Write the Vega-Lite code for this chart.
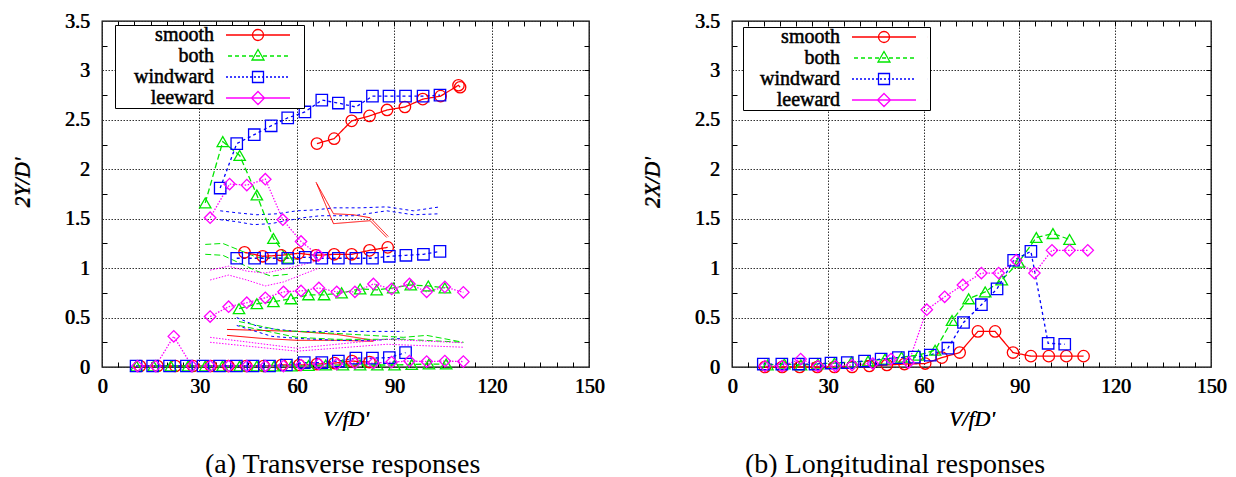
{
"$schema": "https://vega.github.io/schema/vega-lite/v6.json",
"padding": {"left": 9, "top": 10, "right": 5, "bottom": 5},
"spacing": 33,
"config": {
  "font": "Liberation Serif",
  "view": {"stroke": "#000", "strokeWidth": 1.3},
  "axis": {"labelFont": "Liberation Serif", "labelFontSize": 20, "labelFontWeight": "normal", "labelColor": "#000", "titleFont": "Liberation Serif", "titleFontSize": 22, "titleFontWeight": "normal", "titleFontStyle": "italic", "titleColor": "#000", "gridColor": "#333", "gridDash": [1.5, 1.5], "gridOpacity": 1, "gridWidth": 1, "tickColor": "#000", "tickWidth": 1, "labelFlush": false, "labelOverlap": false, "labelBound": false},
  "title": {"font": "Liberation Serif", "fontWeight": "normal", "fontSize": 28, "color": "#000"}
},
"datasets": {
"ta": [
{"s":"smooth","g":"s1","m":1,"x":66.2,"y":2.26},{"s":"smooth","g":"s1","m":1,"x":71.5,"y":2.31},{"s":"smooth","g":"s1","m":1,"x":76.9,"y":2.49},{"s":"smooth","g":"s1","m":1,"x":82.4,"y":2.54},{"s":"smooth","g":"s1","m":1,"x":87.8,"y":2.6},{"s":"smooth","g":"s1","m":1,"x":93.3,"y":2.63},{"s":"smooth","g":"s1","m":1,"x":98.8,"y":2.71},{"s":"smooth","g":"s1","m":1,"x":104.3,"y":2.74},{"s":"smooth","g":"s1","m":1,"x":109.8,"y":2.85},{"s":"smooth","g":"s1","m":1,"x":110.3,"y":2.83},
{"s":"smooth","g":"s2","m":1,"x":43.9,"y":1.16},{"s":"smooth","g":"s2","m":1,"x":49.5,"y":1.12},{"s":"smooth","g":"s2","m":1,"x":55.2,"y":1.13},{"s":"smooth","g":"s2","m":1,"x":60.5,"y":1.15},{"s":"smooth","g":"s2","m":1,"x":65.9,"y":1.13},{"s":"smooth","g":"s2","m":1,"x":71.5,"y":1.14},{"s":"smooth","g":"s2","m":1,"x":76.9,"y":1.14},{"s":"smooth","g":"s2","m":1,"x":82.4,"y":1.18},{"s":"smooth","g":"s2","m":1,"x":88.0,"y":1.21},
{"s":"smooth","g":"s3","m":1,"x":11.7,"y":0.01},{"s":"smooth","g":"s3","m":1,"x":17.1,"y":0.01},{"s":"smooth","g":"s3","m":1,"x":22.6,"y":0.01},{"s":"smooth","g":"s3","m":1,"x":28.0,"y":0.01},{"s":"smooth","g":"s3","m":1,"x":33.5,"y":0.01},{"s":"smooth","g":"s3","m":1,"x":38.9,"y":0.01},{"s":"smooth","g":"s3","m":1,"x":44.4,"y":0.01},{"s":"smooth","g":"s3","m":1,"x":49.8,"y":0.01},{"s":"smooth","g":"s3","m":1,"x":55.3,"y":0.02},{"s":"smooth","g":"s3","m":1,"x":60.7,"y":0.02},{"s":"smooth","g":"s3","m":1,"x":66.2,"y":0.03},{"s":"smooth","g":"s3","m":1,"x":71.6,"y":0.04},{"s":"smooth","g":"s3","m":1,"x":77.0,"y":0.06},{"s":"smooth","g":"s3","m":1,"x":82.4,"y":0.05},
{"s":"both","g":"b1","m":1,"x":31.8,"y":1.66},{"s":"both","g":"b1","m":1,"x":37.2,"y":2.28},{"s":"both","g":"b1","m":1,"x":42.4,"y":2.14},{"s":"both","g":"b1","m":1,"x":47.7,"y":1.74},{"s":"both","g":"b1","m":1,"x":52.8,"y":1.3},{"s":"both","g":"b1","m":1,"x":57.4,"y":1.1},
{"s":"both","g":"b2","m":1,"x":42.2,"y":0.59},{"s":"both","g":"b2","m":1,"x":47.7,"y":0.64},{"s":"both","g":"b2","m":1,"x":52.8,"y":0.66},{"s":"both","g":"b2","m":1,"x":58.2,"y":0.69},{"s":"both","g":"b2","m":1,"x":63.6,"y":0.73},{"s":"both","g":"b2","m":1,"x":68.4,"y":0.73},{"s":"both","g":"b2","m":1,"x":73.8,"y":0.75},{"s":"both","g":"b2","m":1,"x":79.5,"y":0.79},{"s":"both","g":"b2","m":1,"x":84.6,"y":0.78},{"s":"both","g":"b2","m":1,"x":89.7,"y":0.8},{"s":"both","g":"b2","m":1,"x":95.1,"y":0.83},{"s":"both","g":"b2","m":1,"x":100.5,"y":0.82},{"s":"both","g":"b2","m":1,"x":105.6,"y":0.8},
{"s":"both","g":"b3","m":1,"x":10.6,"y":0.01},{"s":"both","g":"b3","m":1,"x":15.9,"y":0.01},{"s":"both","g":"b3","m":1,"x":21.2,"y":0.01},{"s":"both","g":"b3","m":1,"x":26.5,"y":0.01},{"s":"both","g":"b3","m":1,"x":31.8,"y":0.01},{"s":"both","g":"b3","m":1,"x":37.1,"y":0.01},{"s":"both","g":"b3","m":1,"x":42.4,"y":0.01},{"s":"both","g":"b3","m":1,"x":47.7,"y":0.01},{"s":"both","g":"b3","m":1,"x":53.0,"y":0.01},{"s":"both","g":"b3","m":1,"x":58.3,"y":0.01},{"s":"both","g":"b3","m":1,"x":63.6,"y":0.015},{"s":"both","g":"b3","m":1,"x":68.9,"y":0.02},{"s":"both","g":"b3","m":1,"x":74.2,"y":0.02},{"s":"both","g":"b3","m":1,"x":79.5,"y":0.02},{"s":"both","g":"b3","m":1,"x":84.8,"y":0.02},{"s":"both","g":"b3","m":1,"x":90.1,"y":0.02},{"s":"both","g":"b3","m":1,"x":95.4,"y":0.025},{"s":"both","g":"b3","m":1,"x":100.7,"y":0.03},{"s":"both","g":"b3","m":1,"x":106.0,"y":0.03},
{"s":"windward","g":"w1","m":1,"x":36.4,"y":1.81},{"s":"windward","g":"w1","m":1,"x":41.5,"y":2.26},{"s":"windward","g":"w1","m":1,"x":46.9,"y":2.35},{"s":"windward","g":"w1","m":1,"x":52.1,"y":2.44},{"s":"windward","g":"w1","m":1,"x":57.2,"y":2.52},{"s":"windward","g":"w1","m":1,"x":62.5,"y":2.58},{"s":"windward","g":"w1","m":1,"x":67.7,"y":2.7},{"s":"windward","g":"w1","m":1,"x":72.8,"y":2.67},{"s":"windward","g":"w1","m":1,"x":78.2,"y":2.63},{"s":"windward","g":"w1","m":1,"x":83.3,"y":2.74},{"s":"windward","g":"w1","m":1,"x":88.4,"y":2.74},{"s":"windward","g":"w1","m":1,"x":93.5,"y":2.74},{"s":"windward","g":"w1","m":1,"x":98.9,"y":2.74},{"s":"windward","g":"w1","m":1,"x":104.1,"y":2.75},
{"s":"windward","g":"w2","m":1,"x":41.5,"y":1.1},{"s":"windward","g":"w2","m":1,"x":47.0,"y":1.1},{"s":"windward","g":"w2","m":1,"x":52.1,"y":1.1},{"s":"windward","g":"w2","m":1,"x":57.2,"y":1.1},{"s":"windward","g":"w2","m":1,"x":62.6,"y":1.11},{"s":"windward","g":"w2","m":1,"x":67.7,"y":1.1},{"s":"windward","g":"w2","m":1,"x":72.8,"y":1.1},{"s":"windward","g":"w2","m":1,"x":78.2,"y":1.1},{"s":"windward","g":"w2","m":1,"x":83.3,"y":1.1},{"s":"windward","g":"w2","m":1,"x":88.5,"y":1.12},{"s":"windward","g":"w2","m":1,"x":93.6,"y":1.13},{"s":"windward","g":"w2","m":1,"x":99.0,"y":1.14},{"s":"windward","g":"w2","m":1,"x":104.1,"y":1.17},
{"s":"windward","g":"w3","m":1,"x":10.5,"y":0.01},{"s":"windward","g":"w3","m":1,"x":15.6,"y":0.01},{"s":"windward","g":"w3","m":1,"x":20.8,"y":0.01},{"s":"windward","g":"w3","m":1,"x":26.0,"y":0.01},{"s":"windward","g":"w3","m":1,"x":31.1,"y":0.01},{"s":"windward","g":"w3","m":1,"x":36.2,"y":0.01},{"s":"windward","g":"w3","m":1,"x":41.4,"y":0.01},{"s":"windward","g":"w3","m":1,"x":46.5,"y":0.01},{"s":"windward","g":"w3","m":1,"x":51.6,"y":0.01},{"s":"windward","g":"w3","m":1,"x":56.8,"y":0.02},{"s":"windward","g":"w3","m":1,"x":62.3,"y":0.045},{"s":"windward","g":"w3","m":1,"x":67.7,"y":0.045},{"s":"windward","g":"w3","m":1,"x":72.8,"y":0.06},{"s":"windward","g":"w3","m":1,"x":78.2,"y":0.09},{"s":"windward","g":"w3","m":1,"x":83.3,"y":0.09},{"s":"windward","g":"w3","m":1,"x":88.5,"y":0.095},{"s":"windward","g":"w3","m":1,"x":93.5,"y":0.145},
{"s":"leeward","g":"l1","m":1,"x":33.3,"y":1.51},{"s":"leeward","g":"l1","m":1,"x":39.3,"y":1.85},{"s":"leeward","g":"l1","m":1,"x":44.6,"y":1.84},{"s":"leeward","g":"l1","m":1,"x":50.3,"y":1.9},{"s":"leeward","g":"l1","m":1,"x":55.7,"y":1.49},{"s":"leeward","g":"l1","m":1,"x":61.3,"y":1.27},{"s":"leeward","g":"l1","m":1,"x":66.7,"y":1.13},
{"s":"leeward","g":"l2","m":1,"x":33.3,"y":0.51},{"s":"leeward","g":"l2","m":1,"x":39.0,"y":0.61},{"s":"leeward","g":"l2","m":1,"x":44.6,"y":0.65},{"s":"leeward","g":"l2","m":1,"x":50.3,"y":0.7},{"s":"leeward","g":"l2","m":1,"x":55.9,"y":0.76},{"s":"leeward","g":"l2","m":1,"x":61.3,"y":0.77},{"s":"leeward","g":"l2","m":1,"x":66.8,"y":0.8},{"s":"leeward","g":"l2","m":1,"x":72.3,"y":0.76},{"s":"leeward","g":"l2","m":1,"x":77.9,"y":0.76},{"s":"leeward","g":"l2","m":1,"x":83.6,"y":0.84},{"s":"leeward","g":"l2","m":1,"x":89.2,"y":0.79},{"s":"leeward","g":"l2","m":1,"x":94.7,"y":0.84},{"s":"leeward","g":"l2","m":1,"x":100.0,"y":0.76},{"s":"leeward","g":"l2","m":1,"x":105.6,"y":0.81},{"s":"leeward","g":"l2","m":1,"x":111.3,"y":0.755},
{"s":"leeward","g":"l3","m":1,"x":10.9,"y":0.01},{"s":"leeward","g":"l3","m":1,"x":16.5,"y":0.01},{"s":"leeward","g":"l3","m":1,"x":22.1,"y":0.31},{"s":"leeward","g":"l3","m":1,"x":27.7,"y":0.01},{"s":"leeward","g":"l3","m":1,"x":33.3,"y":0.01},{"s":"leeward","g":"l3","m":1,"x":39.0,"y":0.01},{"s":"leeward","g":"l3","m":1,"x":44.6,"y":0.01},{"s":"leeward","g":"l3","m":1,"x":50.3,"y":0.01},{"s":"leeward","g":"l3","m":1,"x":55.9,"y":0.01},{"s":"leeward","g":"l3","m":1,"x":61.3,"y":0.02},{"s":"leeward","g":"l3","m":1,"x":66.8,"y":0.03},{"s":"leeward","g":"l3","m":1,"x":72.3,"y":0.03},{"s":"leeward","g":"l3","m":1,"x":77.9,"y":0.04},{"s":"leeward","g":"l3","m":1,"x":83.6,"y":0.04},{"s":"leeward","g":"l3","m":1,"x":89.2,"y":0.05},{"s":"leeward","g":"l3","m":1,"x":94.7,"y":0.06},{"s":"leeward","g":"l3","m":1,"x":100.0,"y":0.055},{"s":"leeward","g":"l3","m":1,"x":105.6,"y":0.06},{"s":"leeward","g":"l3","m":1,"x":111.3,"y":0.055},
{"s":"smooth","g":"su1","m":0,"x":65.9,"y":1.87},{"s":"smooth","g":"su1","m":0,"x":71.3,"y":1.55},{"s":"smooth","g":"su1","m":0,"x":77.4,"y":1.54},{"s":"smooth","g":"su1","m":0,"x":82.6,"y":1.51},{"s":"smooth","g":"su1","m":0,"x":88.2,"y":1.32},
{"s":"smooth","g":"su2","m":0,"x":66.2,"y":1.85},{"s":"smooth","g":"su2","m":0,"x":71.3,"y":1.45},{"s":"smooth","g":"su2","m":0,"x":82.6,"y":1.48},{"s":"smooth","g":"su2","m":0,"x":87.7,"y":1.31},
{"s":"smooth","g":"su3","m":0,"x":38.5,"y":0.38},{"s":"smooth","g":"su3","m":0,"x":49.0,"y":0.37},{"s":"smooth","g":"su3","m":0,"x":60.0,"y":0.36},{"s":"smooth","g":"su3","m":0,"x":72.3,"y":0.33},{"s":"smooth","g":"su3","m":0,"x":83.6,"y":0.27},
{"s":"smooth","g":"su4","m":0,"x":38.5,"y":0.32},{"s":"smooth","g":"su4","m":0,"x":49.0,"y":0.29},{"s":"smooth","g":"su4","m":0,"x":60.0,"y":0.27},{"s":"smooth","g":"su4","m":0,"x":72.3,"y":0.27},{"s":"smooth","g":"su4","m":0,"x":83.6,"y":0.26},
{"s":"windward","g":"wu1","m":0,"x":36.4,"y":1.58},{"s":"windward","g":"wu1","m":0,"x":41.5,"y":1.56},{"s":"windward","g":"wu1","m":0,"x":47.7,"y":1.54},{"s":"windward","g":"wu1","m":0,"x":54.0,"y":1.55},{"s":"windward","g":"wu1","m":0,"x":60.0,"y":1.58},{"s":"windward","g":"wu1","m":0,"x":66.0,"y":1.59},{"s":"windward","g":"wu1","m":0,"x":71.3,"y":1.61},{"s":"windward","g":"wu1","m":0,"x":79.5,"y":1.61},{"s":"windward","g":"wu1","m":0,"x":87.7,"y":1.62},{"s":"windward","g":"wu1","m":0,"x":95.9,"y":1.58},{"s":"windward","g":"wu1","m":0,"x":104.1,"y":1.62},
{"s":"windward","g":"wu2","m":0,"x":36.4,"y":1.49},{"s":"windward","g":"wu2","m":0,"x":41.5,"y":1.47},{"s":"windward","g":"wu2","m":0,"x":46.7,"y":1.44},{"s":"windward","g":"wu2","m":0,"x":52.0,"y":1.45},{"s":"windward","g":"wu2","m":0,"x":56.9,"y":1.48},{"s":"windward","g":"wu2","m":0,"x":62.0,"y":1.51},{"s":"windward","g":"wu2","m":0,"x":67.2,"y":1.53},{"s":"windward","g":"wu2","m":0,"x":77.4,"y":1.53},{"s":"windward","g":"wu2","m":0,"x":87.7,"y":1.58},{"s":"windward","g":"wu2","m":0,"x":95.9,"y":1.54},{"s":"windward","g":"wu2","m":0,"x":104.1,"y":1.55},
{"s":"windward","g":"wu3","m":0,"x":41.5,"y":0.5},{"s":"windward","g":"wu3","m":0,"x":48.7,"y":0.4},{"s":"windward","g":"wu3","m":0,"x":60.0,"y":0.36},{"s":"windward","g":"wu3","m":0,"x":72.0,"y":0.36},{"s":"windward","g":"wu3","m":0,"x":92.8,"y":0.36},
{"s":"windward","g":"wu4","m":0,"x":41.5,"y":0.42},{"s":"windward","g":"wu4","m":0,"x":52.3,"y":0.31},{"s":"windward","g":"wu4","m":0,"x":60.0,"y":0.29},{"s":"windward","g":"wu4","m":0,"x":72.3,"y":0.27},{"s":"windward","g":"wu4","m":0,"x":83.6,"y":0.27},{"s":"windward","g":"wu4","m":0,"x":92.8,"y":0.29},
{"s":"both","g":"bu1","m":0,"x":31.8,"y":1.24},{"s":"both","g":"bu1","m":0,"x":37.2,"y":1.25},{"s":"both","g":"bu1","m":0,"x":47.7,"y":1.11},{"s":"both","g":"bu1","m":0,"x":57.0,"y":1.1},{"s":"both","g":"bu1","m":0,"x":60.0,"y":1.09},
{"s":"both","g":"bu2","m":0,"x":31.8,"y":1.14},{"s":"both","g":"bu2","m":0,"x":37.2,"y":1.13},{"s":"both","g":"bu2","m":0,"x":47.7,"y":0.97},{"s":"both","g":"bu2","m":0,"x":52.0,"y":0.92},{"s":"both","g":"bu2","m":0,"x":58.0,"y":0.94},
{"s":"both","g":"bu3","m":0,"x":42.2,"y":0.46},{"s":"both","g":"bu3","m":0,"x":55.0,"y":0.37},{"s":"both","g":"bu3","m":0,"x":72.0,"y":0.34},{"s":"both","g":"bu3","m":0,"x":92.8,"y":0.3},{"s":"both","g":"bu3","m":0,"x":100.0,"y":0.32},{"s":"both","g":"bu3","m":0,"x":111.3,"y":0.25},
{"s":"both","g":"bu4","m":0,"x":42.2,"y":0.42},{"s":"both","g":"bu4","m":0,"x":60.0,"y":0.3},{"s":"both","g":"bu4","m":0,"x":72.3,"y":0.28},{"s":"both","g":"bu4","m":0,"x":92.8,"y":0.28},{"s":"both","g":"bu4","m":0,"x":111.3,"y":0.25},
{"s":"leeward","g":"lu1","m":0,"x":33.3,"y":0.98},{"s":"leeward","g":"lu1","m":0,"x":39.0,"y":1.02},{"s":"leeward","g":"lu1","m":0,"x":44.6,"y":0.97},{"s":"leeward","g":"lu1","m":0,"x":50.3,"y":0.95},{"s":"leeward","g":"lu1","m":0,"x":55.9,"y":0.99},{"s":"leeward","g":"lu1","m":0,"x":61.3,"y":1.03},{"s":"leeward","g":"lu1","m":0,"x":66.8,"y":1.08},
{"s":"leeward","g":"lu2","m":0,"x":33.3,"y":0.88},{"s":"leeward","g":"lu2","m":0,"x":39.0,"y":0.93},{"s":"leeward","g":"lu2","m":0,"x":44.6,"y":0.88},{"s":"leeward","g":"lu2","m":0,"x":50.3,"y":0.82},{"s":"leeward","g":"lu2","m":0,"x":55.9,"y":0.86},{"s":"leeward","g":"lu2","m":0,"x":61.3,"y":0.93},{"s":"leeward","g":"lu2","m":0,"x":66.8,"y":1.0},
{"s":"leeward","g":"lu3","m":0,"x":33.3,"y":0.3},{"s":"leeward","g":"lu3","m":0,"x":60.0,"y":0.19},{"s":"leeward","g":"lu3","m":0,"x":87.7,"y":0.28},{"s":"leeward","g":"lu3","m":0,"x":111.3,"y":0.245},
{"s":"leeward","g":"lu4","m":0,"x":33.3,"y":0.25},{"s":"leeward","g":"lu4","m":0,"x":60.0,"y":0.16},{"s":"leeward","g":"lu4","m":0,"x":87.7,"y":0.23},{"s":"leeward","g":"lu4","m":0,"x":111.3,"y":0.2}
],
"tb": [
{"s":"smooth","g":"s","m":1,"x":10.3,"y":0.0},{"s":"smooth","g":"s","m":1,"x":15.7,"y":0.0},{"s":"smooth","g":"s","m":1,"x":21.2,"y":0.0},{"s":"smooth","g":"s","m":1,"x":26.7,"y":0.0},{"s":"smooth","g":"s","m":1,"x":32.1,"y":0.0},{"s":"smooth","g":"s","m":1,"x":37.6,"y":0.0},{"s":"smooth","g":"s","m":1,"x":43.0,"y":0.01},{"s":"smooth","g":"s","m":1,"x":48.5,"y":0.02},{"s":"smooth","g":"s","m":1,"x":54.0,"y":0.03},{"s":"smooth","g":"s","m":1,"x":60.5,"y":0.035},{"s":"smooth","g":"s","m":1,"x":65.7,"y":0.095},{"s":"smooth","g":"s","m":1,"x":71.3,"y":0.146},{"s":"smooth","g":"s","m":1,"x":77.0,"y":0.36},{"s":"smooth","g":"s","m":1,"x":82.4,"y":0.36},{"s":"smooth","g":"s","m":1,"x":88.0,"y":0.146},{"s":"smooth","g":"s","m":1,"x":93.6,"y":0.11},{"s":"smooth","g":"s","m":1,"x":99.2,"y":0.11},{"s":"smooth","g":"s","m":1,"x":104.7,"y":0.11},{"s":"smooth","g":"s","m":1,"x":110.1,"y":0.11},
{"s":"both","g":"b","m":1,"x":11.1,"y":0.02},{"s":"both","g":"b","m":1,"x":16.4,"y":0.03},{"s":"both","g":"b","m":1,"x":21.6,"y":0.02},{"s":"both","g":"b","m":1,"x":26.9,"y":0.03},{"s":"both","g":"b","m":1,"x":32.1,"y":0.04},{"s":"both","g":"b","m":1,"x":37.4,"y":0.05},{"s":"both","g":"b","m":1,"x":42.6,"y":0.06},{"s":"both","g":"b","m":1,"x":47.9,"y":0.08},{"s":"both","g":"b","m":1,"x":53.1,"y":0.1},{"s":"both","g":"b","m":1,"x":58.4,"y":0.12},{"s":"both","g":"b","m":1,"x":63.6,"y":0.17},{"s":"both","g":"b","m":1,"x":68.9,"y":0.47},{"s":"both","g":"b","m":1,"x":74.1,"y":0.69},{"s":"both","g":"b","m":1,"x":79.3,"y":0.76},{"s":"both","g":"b","m":1,"x":84.5,"y":0.88},{"s":"both","g":"b","m":1,"x":89.8,"y":1.06},{"s":"both","g":"b","m":1,"x":95.3,"y":1.31},{"s":"both","g":"b","m":1,"x":100.5,"y":1.35},{"s":"both","g":"b","m":1,"x":105.7,"y":1.29},
{"s":"windward","g":"w","m":1,"x":9.8,"y":0.03},{"s":"windward","g":"w","m":1,"x":15.6,"y":0.03},{"s":"windward","g":"w","m":1,"x":20.8,"y":0.03},{"s":"windward","g":"w","m":1,"x":26.0,"y":0.03},{"s":"windward","g":"w","m":1,"x":31.0,"y":0.04},{"s":"windward","g":"w","m":1,"x":36.1,"y":0.045},{"s":"windward","g":"w","m":1,"x":41.5,"y":0.06},{"s":"windward","g":"w","m":1,"x":46.7,"y":0.08},{"s":"windward","g":"w","m":1,"x":52.1,"y":0.095},{"s":"windward","g":"w","m":1,"x":57.1,"y":0.1},{"s":"windward","g":"w","m":1,"x":62.1,"y":0.12},{"s":"windward","g":"w","m":1,"x":67.6,"y":0.19},{"s":"windward","g":"w","m":1,"x":72.5,"y":0.45},{"s":"windward","g":"w","m":1,"x":78.1,"y":0.63},{"s":"windward","g":"w","m":1,"x":83.0,"y":0.79},{"s":"windward","g":"w","m":1,"x":88.2,"y":1.08},{"s":"windward","g":"w","m":1,"x":93.6,"y":1.17},{"s":"windward","g":"w","m":1,"x":99.0,"y":0.24},{"s":"windward","g":"w","m":1,"x":104.2,"y":0.23},
{"s":"leeward","g":"l","m":1,"x":10.3,"y":0.01},{"s":"leeward","g":"l","m":1,"x":15.7,"y":0.01},{"s":"leeward","g":"l","m":1,"x":21.5,"y":0.08},{"s":"leeward","g":"l","m":1,"x":26.9,"y":0.01},{"s":"leeward","g":"l","m":1,"x":32.4,"y":0.01},{"s":"leeward","g":"l","m":1,"x":37.6,"y":0.02},{"s":"leeward","g":"l","m":1,"x":44.1,"y":0.035},{"s":"leeward","g":"l","m":1,"x":49.8,"y":0.08},{"s":"leeward","g":"l","m":1,"x":55.3,"y":0.045},{"s":"leeward","g":"l","m":1,"x":61.0,"y":0.58},{"s":"leeward","g":"l","m":1,"x":66.6,"y":0.71},{"s":"leeward","g":"l","m":1,"x":72.3,"y":0.83},{"s":"leeward","g":"l","m":1,"x":78.1,"y":0.95},{"s":"leeward","g":"l","m":1,"x":83.5,"y":0.95},{"s":"leeward","g":"l","m":1,"x":89.0,"y":1.08},{"s":"leeward","g":"l","m":1,"x":94.7,"y":0.95},{"s":"leeward","g":"l","m":1,"x":100.2,"y":1.18},{"s":"leeward","g":"l","m":1,"x":105.7,"y":1.18},{"s":"leeward","g":"l","m":1,"x":111.4,"y":1.18}
]
},
"resolve": {"scale": {"color": "independent", "shape": "independent", "strokeDash": "independent"}, "legend": {"color": "independent"}},
"hconcat": [
{
  "width": 487, "height": 346,
  "data": {"name": "ta"},
  "title": {"text": "(a) Transverse responses", "orient": "bottom", "anchor": "start", "frame": "group", "dx": 103, "offset": 21},
  "encoding": {
    "color": {"field": "s", "type": "nominal", "scale": {"domain": ["smooth", "both", "windward", "leeward"], "range": ["#ff0000", "#00e600", "#0000ff", "#ff00ff"]},
      "legend": {"orient": "none", "legendX": 13, "legendY": 4, "title": null, "padding": 0, "strokeColor": "#000", "fillColor": "#fff", "symbolFillColor": "transparent", "symbolSize": 100, "symbolStrokeWidth": 1.3, "labelFont": "Liberation Serif", "labelFontSize": 20, "labelFontWeight": "normal", "labelColor": "#000", "rowPadding": 1, "labelLimit": 300,
        "encode": {
          "symbols": {"update": {
            "shape": {"signal": "datum.value==='smooth' ? 'M-28.6,0L-28.59,0M-6.4,0H6.4M1.1,0A1.1,1.1,0,1,1,-1.1,0A1.1,1.1,0,1,1,1.1,0M8.6,0L8.61,0' : datum.value==='both' ? 'M-28.6,0L-28.59,0M-6,0H-5.2M-4.6,0H-3.8M-3.2,0H-2.4M-1.8,0H-1M-0.4,0H0.4M1,0H1.8M2.4,0H3.2M3.8,0H4.6M5.2,0H6M0,-1.3L1.2,0.8L-1.2,0.8ZM8.6,0L8.61,0' : datum.value==='windward' ? 'M-28.6,0L-28.59,0M-6.4,0H-6M-5.6,0H-5.2M-4.8,0H-4.4M-4,0H-3.6M-3.2,0H-2.8M-2.4,0H-2M-1.6,0H-1.2M-0.8,0H-0.4M0,0H0.4M0.8,0H1.2M1.6,0H2M2.4,0H2.8M3.2,0H3.6M4,0H4.4M4.8,0H5.2M5.6,0H6M-1.1,-1.1H1.1V1.1H-1.1ZM8.6,0L8.61,0' : 'M-28.6,0L-28.59,0M-6.4,0H6.4M0,-1.3L1.3,0L0,1.3L-1.3,0ZM8.6,0L8.61,0'"},
            "fill": {"value": "transparent"},
            "x": {"value": 143}
          }},
          "labels": {"update": {"x": {"value": 99}, "align": {"value": "right"}, "stroke": {"value": "#000"}, "strokeWidth": {"value": 0.5}}}
        }
      }
    }
  },
  "layer": [
    {"transform": [{"filter": "datum.m == 0"}],
     "mark": {"type": "line", "strokeWidth": 1},
     "encoding": {
       "x": {"field": "x", "type": "quantitative", "scale": {"domain": [0, 150], "nice": false, "zero": false}, "axis": {"orient": "bottom", "values": [0, 30, 60, 90, 120, 150], "format": "d", "grid": true, "ticks": false, "domain": false, "labelPadding": 9, "title": "V/fD'", "titlePadding": 12}},
       "y": {"field": "y", "type": "quantitative", "scale": {"domain": [0, 3.5], "nice": false, "zero": false}, "axis": {"orient": "left", "values": [0, 0.5, 1, 1.5, 2, 2.5, 3, 3.5], "format": "~g", "grid": true, "ticks": false, "domain": false, "labelPadding": 12, "title": "2Y/D'", "titlePadding": 31, "titleY": 161}},
       "detail": {"field": "g", "type": "nominal"},
       "strokeDash": {"field": "s", "type": "nominal", "scale": {"domain": ["windward", "smooth", "leeward", "both"], "range": [[3, 3], [1, 0], [1.5, 1.5], [6, 3]]}, "legend": null}
     }},
    {"transform": [{"filter": "datum.m == 1"}],
     "mark": {"type": "line", "strokeWidth": 1.3},
     "encoding": {
       "x": {"field": "x", "type": "quantitative", "scale": {"domain": [0, 150], "nice": false, "zero": false}, "axis": {"orient": "bottom", "values": [5,10,15,20,25,35,40,45,50,55,65,70,75,80,85,95,100,105,110,115,125,130,135,140,145], "labels": false, "grid": false, "domain": false, "tickSize": -5, "title": null}},
       "y": {"field": "y", "type": "quantitative", "scale": {"domain": [0, 3.5], "nice": false, "zero": false}, "axis": {"orient": "left", "values": [0.25,0.75,1.25,1.75,2.25,2.75,3.25], "labels": false, "grid": false, "domain": false, "tickSize": -5, "title": null}},
       "detail": {"field": "g", "type": "nominal"},
       "strokeDash": {"field": "s", "type": "nominal", "scale": {"domain": ["windward", "smooth", "leeward", "both"], "range": [[3, 3], [1, 0], [1.5, 1.5], [6, 3]]}, "legend": null}
     }},
    {"transform": [{"filter": "datum.m == 1"}],
     "mark": {"type": "point", "filled": false, "size": 130, "strokeWidth": 1.3, "opacity": 1},
     "encoding": {
       "x": {"field": "x", "type": "quantitative", "scale": {"domain": [0, 150], "nice": false, "zero": false}, "axis": {"orient": "top", "values": [5,10,15,20,25,30,35,40,45,50,55,60,65,70,75,80,85,90,95,100,105,110,115,120,125,130,135,140,145], "labels": false, "grid": false, "domain": false, "tickSize": -5, "title": null}},
       "y": {"field": "y", "type": "quantitative", "scale": {"domain": [0, 3.5], "nice": false, "zero": false}, "axis": {"orient": "right", "values": [0.25,0.5,0.75,1,1.25,1.5,1.75,2,2.25,2.5,2.75,3,3.25], "labels": false, "grid": false, "domain": false, "tickSize": -5, "title": null}},
       "shape": {"field": "s", "type": "nominal", "scale": {"domain": ["leeward", "windward", "both", "smooth"], "range": ["diamond", "square", "triangle-up", "circle"]}, "legend": null}
     }},
    {"mark": {"type": "point", "opacity": 0, "size": 1},
     "encoding": {
       "x": {"field": "x", "type": "quantitative", "scale": {"domain": [0, 150], "nice": false, "zero": false}, "axis": {"orient": "bottom", "values": [0, 30, 60, 90, 120, 150], "format": "d", "grid": false, "ticks": false, "domain": false, "labelPadding": 9, "labelOffset": 0.7, "title": "V/fD'", "titlePadding": 12.7}},
       "y": {"field": "y", "type": "quantitative", "scale": {"domain": [0, 3.5], "nice": false, "zero": false}, "axis": {"orient": "left", "values": [0, 0.5, 1, 1.5, 2, 2.5, 3, 3.5], "format": "~g", "grid": false, "ticks": false, "domain": false, "labelPadding": 12.7, "title": "2Y/D'", "titlePadding": 31, "titleY": 161}}
     }}
  ],
  "resolve": {"axis": {"x": "independent", "y": "independent"}}
},
{
  "width": 479, "height": 346,
  "data": {"name": "tb"},
  "title": {"text": "(b) Longitudinal responses", "orient": "bottom", "anchor": "start", "frame": "group", "dx": 13, "offset": 21},
  "encoding": {
    "color": {"field": "s", "type": "nominal", "scale": {"domain": ["smooth", "both", "windward", "leeward"], "range": ["#ff0000", "#00e600", "#0000ff", "#ff00ff"]},
      "legend": {"orient": "none", "legendX": 11, "legendY": 6, "title": null, "padding": 0, "strokeColor": "#000", "fillColor": "#fff", "symbolFillColor": "transparent", "symbolSize": 100, "symbolStrokeWidth": 1.3, "labelFont": "Liberation Serif", "labelFontSize": 20, "labelFontWeight": "normal", "labelColor": "#000", "rowPadding": 1, "labelLimit": 300,
        "encode": {
          "symbols": {"update": {
            "shape": {"signal": "datum.value==='smooth' ? 'M-28.2,0L-28.19,0M-6.4,0H6.4M1.1,0A1.1,1.1,0,1,1,-1.1,0A1.1,1.1,0,1,1,1.1,0M8.6,0L8.61,0' : datum.value==='both' ? 'M-28.2,0L-28.19,0M-6,0H-5.2M-4.6,0H-3.8M-3.2,0H-2.4M-1.8,0H-1M-0.4,0H0.4M1,0H1.8M2.4,0H3.2M3.8,0H4.6M5.2,0H6M0,-1.3L1.2,0.8L-1.2,0.8ZM8.6,0L8.61,0' : datum.value==='windward' ? 'M-28.2,0L-28.19,0M-6.4,0H-6M-5.6,0H-5.2M-4.8,0H-4.4M-4,0H-3.6M-3.2,0H-2.8M-2.4,0H-2M-1.6,0H-1.2M-0.8,0H-0.4M0,0H0.4M0.8,0H1.2M1.6,0H2M2.4,0H2.8M3.2,0H3.6M4,0H4.4M4.8,0H5.2M5.6,0H6M-1.1,-1.1H1.1V1.1H-1.1ZM8.6,0L8.61,0' : 'M-28.2,0L-28.19,0M-6.4,0H6.4M0,-1.3L1.3,0L0,1.3L-1.3,0ZM8.6,0L8.61,0'"},
            "fill": {"value": "transparent"},
            "x": {"value": 141}
          }},
          "labels": {"update": {"x": {"value": 97}, "align": {"value": "right"}, "stroke": {"value": "#000"}, "strokeWidth": {"value": 0.5}}}
        }
      }
    }
  },
  "layer": [
    {"mark": {"type": "line", "strokeWidth": 1.3},
     "encoding": {
       "x": {"field": "x", "type": "quantitative", "scale": {"domain": [0, 150], "nice": false, "zero": false}, "axis": {"orient": "bottom", "values": [0, 30, 60, 90, 120, 150], "format": "d", "grid": true, "ticks": false, "domain": false, "labelPadding": 9, "title": "V/fD'", "titlePadding": 12}},
       "y": {"field": "y", "type": "quantitative", "scale": {"domain": [0, 3.5], "nice": false, "zero": false}, "axis": {"orient": "left", "values": [0, 0.5, 1, 1.5, 2, 2.5, 3, 3.5], "format": "~g", "grid": true, "ticks": false, "domain": false, "labelPadding": 12, "title": "2X/D'", "titlePadding": 31, "titleY": 161}},
       "detail": {"field": "g", "type": "nominal"},
       "strokeDash": {"field": "s", "type": "nominal", "scale": {"domain": ["windward", "smooth", "leeward", "both"], "range": [[3, 3], [1, 0], [1.5, 1.5], [6, 3]]}, "legend": null}
     }},
    {"mark": {"type": "point", "filled": false, "size": 130, "strokeWidth": 1.3, "opacity": 1},
     "encoding": {
       "x": {"field": "x", "type": "quantitative", "scale": {"domain": [0, 150], "nice": false, "zero": false}, "axis": {"orient": "bottom", "values": [5,10,15,20,25,35,40,45,50,55,65,70,75,80,85,95,100,105,110,115,125,130,135,140,145], "labels": false, "grid": false, "domain": false, "tickSize": -5, "title": null}},
       "y": {"field": "y", "type": "quantitative", "scale": {"domain": [0, 3.5], "nice": false, "zero": false}, "axis": {"orient": "left", "values": [0.25,0.75,1.25,1.75,2.25,2.75,3.25], "labels": false, "grid": false, "domain": false, "tickSize": -5, "title": null}},
       "shape": {"field": "s", "type": "nominal", "scale": {"domain": ["leeward", "windward", "both", "smooth"], "range": ["diamond", "square", "triangle-up", "circle"]}, "legend": null}
     }},
    {"mark": {"type": "point", "opacity": 0, "size": 1},
     "encoding": {
       "x": {"field": "x", "type": "quantitative", "scale": {"domain": [0, 150], "nice": false, "zero": false}, "axis": {"orient": "top", "values": [5,10,15,20,25,30,35,40,45,50,55,60,65,70,75,80,85,90,95,100,105,110,115,120,125,130,135,140,145], "labels": false, "grid": false, "domain": false, "tickSize": -5, "title": null}},
       "y": {"field": "y", "type": "quantitative", "scale": {"domain": [0, 3.5], "nice": false, "zero": false}, "axis": {"orient": "right", "values": [0.25,0.5,0.75,1,1.25,1.5,1.75,2,2.25,2.5,2.75,3,3.25], "labels": false, "grid": false, "domain": false, "tickSize": -5, "title": null}}
     }},
    {"mark": {"type": "point", "opacity": 0, "size": 1},
     "encoding": {
       "x": {"field": "x", "type": "quantitative", "scale": {"domain": [0, 150], "nice": false, "zero": false}, "axis": {"orient": "bottom", "values": [0, 30, 60, 90, 120, 150], "format": "d", "grid": false, "ticks": false, "domain": false, "labelPadding": 9, "labelOffset": 0.7, "title": "V/fD'", "titlePadding": 12.7}},
       "y": {"field": "y", "type": "quantitative", "scale": {"domain": [0, 3.5], "nice": false, "zero": false}, "axis": {"orient": "left", "values": [0, 0.5, 1, 1.5, 2, 2.5, 3, 3.5], "format": "~g", "grid": false, "ticks": false, "domain": false, "labelPadding": 12.7, "title": "2X/D'", "titlePadding": 31, "titleY": 161}}
     }}
  ],
  "resolve": {"axis": {"x": "independent", "y": "independent"}}
}
]
}
